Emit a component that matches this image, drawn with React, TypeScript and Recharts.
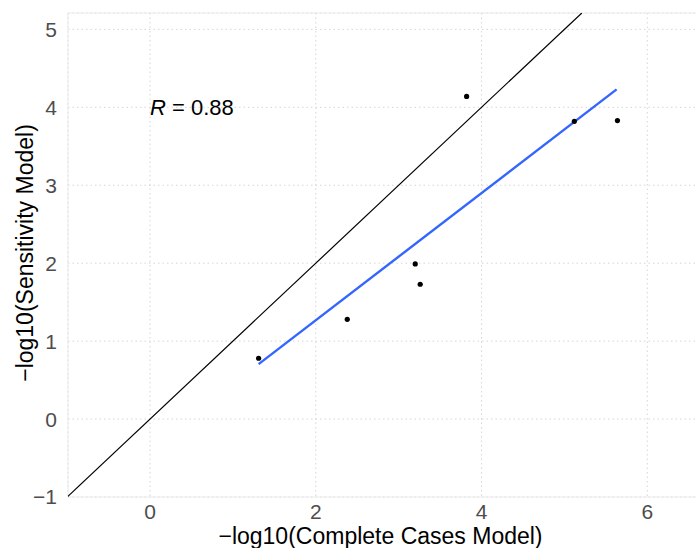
import React from "react";
import {
  ComposedChart,
  Scatter,
  XAxis,
  YAxis,
  CartesianGrid,
  ReferenceArea,
  ReferenceDot,
} from "recharts";

// Observed points: -log10 p-values
const completeCases = [1.31, 2.38, 3.2, 3.26, 3.82, 5.12, 5.64];
const sensitivity = [0.78, 1.28, 1.99, 1.73, 4.14, 3.82, 3.83];

// Linear-fit line (endpoints)
const fitX = [1.31, 5.63];
const fitY = [0.705, 4.23];

// Identity line y = x
const identityVals = [-1, 5.21];

const xTicks = [0, 2, 4, 6];
const yTicks = [-1, 0, 1, 2, 3, 4, 5];
const xDomain = [-0.99, 6.6];
const yDomain = [-1, 5.21];

const rLabel = { x: 0, y: 4, value: "0.88" };

const points = completeCases.map((x, i) => ({ x, y: sensitivity[i] }));
const fitLine = fitX.map((x, i) => ({ x, y: fitY[i] }));
const identity = identityVals.map((v) => ({ x: v, y: v }));

const FONT = "'Liberation Sans', Arial, Helvetica, sans-serif";

const fmt = (v: number) => String(v).replace("-", "\u2212");

const NoShape = () => <g />;

const Dot = (props: any) => (
  <circle cx={props.cx} cy={props.cy} r={2.6} fill="#000000" />
);

export default function App() {
  return (
    <div
      style={{
        position: "absolute",
        left: 0,
        top: 0,
        width: 696,
        height: 548,
        overflow: "hidden",
        background: "#ffffff",
      }}
    >
      <ComposedChart
        width={700}
        height={548}
        margin={{ top: 13, right: 3, bottom: 0, left: 0 }}
      >
        <CartesianGrid
          stroke="#d6d6d6"
          strokeDasharray="1.5 3"
          strokeWidth={1}
        />
        <ReferenceArea
          x1={xDomain[0]}
          x2={xDomain[1]}
          y1={yDomain[0]}
          y2={yDomain[1]}
          fill="none"
          stroke="#ebebeb"
          strokeWidth={1}
          ifOverflow="visible"
        />
        <XAxis
          type="number"
          dataKey="x"
          domain={xDomain}
          ticks={xTicks}
          tickFormatter={fmt}
          allowDataOverflow
          height={51}
          axisLine={false}
          tickLine={false}
          tickSize={0}
          tickMargin={7}
          tick={{ fill: "#4d4d4d", fontSize: 21, fontFamily: FONT }}
          label={(p: any) => {
            const vb = p.viewBox || { x: 68, y: 497, width: 629 };
            return (
              <text
                x={vb.x + vb.width / 2 - 2}
                y={544}
                textAnchor="middle"
                fill="#000000"
                fontSize={23}
                fontFamily={FONT}
              >
                −log10(Complete Cases Model)
              </text>
            );
          }}
        />
        <YAxis
          type="number"
          dataKey="y"
          domain={yDomain}
          ticks={yTicks}
          tickFormatter={fmt}
          allowDataOverflow
          width={68}
          axisLine={false}
          tickLine={false}
          tickSize={0}
          tickMargin={11}
          tick={{ fill: "#4d4d4d", fontSize: 21, fontFamily: FONT }}
          label={(p: any) => {
            const vb = p.viewBox || { x: 0, y: 13, width: 68, height: 484 };
            const cx = 33;
            const cy = vb.y + vb.height / 2 - 2;
            return (
              <text
                x={cx}
                y={cy}
                transform={`rotate(-90, ${cx}, ${cy})`}
                textAnchor="middle"
                fill="#000000"
                fontSize={23}
                fontFamily={FONT}
              >
                −log10(Sensitivity Model)
              </text>
            );
          }}
        />
        <Scatter
          data={identity}
          line={{ stroke: "#000000", strokeWidth: 1.2 }}
          shape={NoShape}
          isAnimationActive={false}
        />
        <Scatter
          data={fitLine}
          line={{ stroke: "#3366FF", strokeWidth: 2.4 }}
          shape={NoShape}
          isAnimationActive={false}
        />
        <Scatter data={points} shape={Dot} isAnimationActive={false} />
        <ReferenceDot
          x={rLabel.x}
          y={rLabel.y}
          r={0}
          ifOverflow="visible"
          shape={(p: any) => (
            <text
              x={p.cx}
              y={p.cy}
              dy="0.36em"
              textAnchor="start"
              fill="#000000"
              fontSize={22}
              fontFamily={FONT}
            >
              <tspan fontStyle="italic">R</tspan>
              {" = " + rLabel.value}
            </text>
          )}
        />
      </ComposedChart>
    </div>
  );
}
